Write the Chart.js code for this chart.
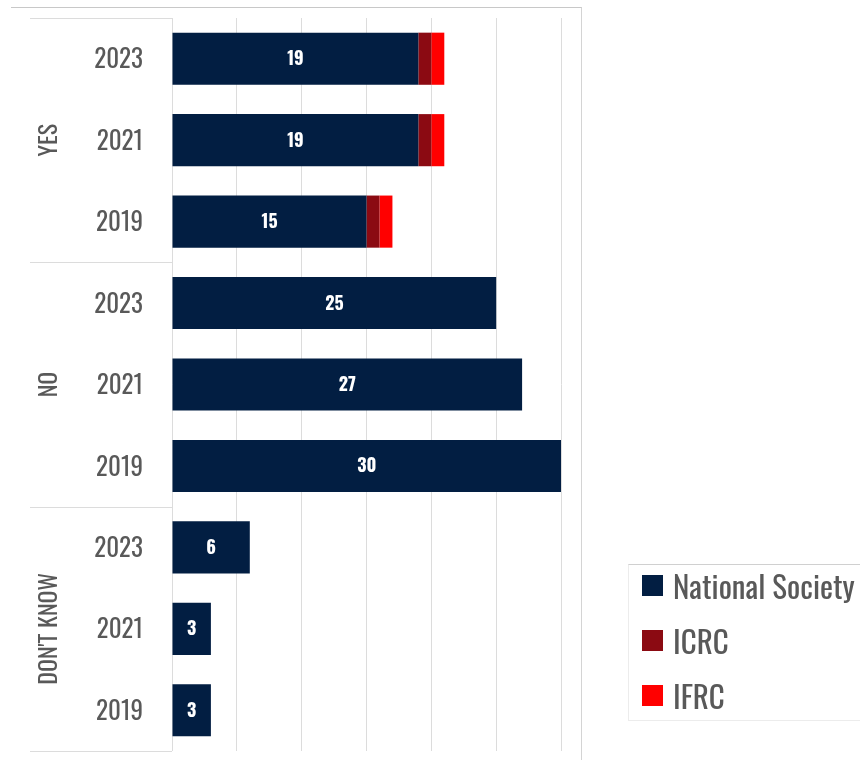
<!DOCTYPE html>
<html>
<head>
<meta charset="utf-8">
<script src="https://cdn.jsdelivr.net/npm/chart.js@4.4.1/dist/chart.umd.min.js"></script>
<style>
  body { margin: 0; background: #fff; }
  #wrap { position: relative; width: 860px; height: 760px; overflow: hidden; }
  #frame {
    position: absolute; left: 11px; top: 7px; width: 570px; height: 760px;
    border-top: 1px solid #c8c8c8; border-right: 1px solid #d4d4d4;
  }
  #legend {
    position: absolute; left: 628px; top: 564px; width: 240px; height: 155px;
    border-top: 1px solid #d0d0d0; border-left: 1px solid #ececec; border-bottom: 1px solid #ececec;
    font-family: Oswald, "Roboto Condensed", sans-serif;
    font-size: 31px; color: #595959;
  }
  .item { position: absolute; left: 13px; height: 30px; line-height: 30px; }
  .item span.box { position: absolute; left: 0; top: 0; width: 21px; height: 21px; }
  .item span.txt { position: absolute; left: 31px; top: -5px; white-space: nowrap; }
  canvas { position: absolute; left: 0; top: 0; }
</style>
</head>
<body>
<div id="wrap">
  <div id="frame"></div>
  <canvas id="chart" width="860" height="760"></canvas>
  <div id="legend"></div>
</div>
<script>
const groups = ["YES", "NO", "DON'T KNOW"];
const years = ["2023", "2021", "2019"];
const seriesNames = ["National Society", "ICRC", "IFRC"];
const seriesColors = ["#021e42", "#8b0a12", "#ff0000"];
const nationalSociety = [19, 19, 15, 25, 27, 30, 6, 3, 3];
const icrc = [1, 1, 1, 0, 0, 0, 0, 0, 0];
const ifrc = [1, 1, 1, 0, 0, 0, 0, 0, 0];

const labels = groups.flatMap(() => years);
const font = "Oswald, 'Roboto Condensed', sans-serif";

// group captions on the left plus the thin separator lines between them
const groupPlugin = {
  id: "groups",
  afterDraw(chart) {
    const { ctx, chartArea, scales } = chart;
    const y = scales.y;
    const per = years.length;
    ctx.save();
    ctx.strokeStyle = "#dcdcdc";
    ctx.lineWidth = 1;
    for (let g = 0; g <= groups.length; g++) {
      let py;
      if (g === 0) py = chartArea.top;
      else if (g === groups.length) py = chartArea.bottom;
      else py = (y.getPixelForValue(g * per - 1) + y.getPixelForValue(g * per)) / 2;
      py = Math.round(py) + 0.5;
      ctx.beginPath();
      ctx.moveTo(30, py);
      ctx.lineTo(chartArea.left, py);
      ctx.stroke();
    }
    ctx.fillStyle = "#595959";
    ctx.font = "24px " + font;
    ctx.textAlign = "center";
    ctx.textBaseline = "middle";
    groups.forEach((name, g) => {
      const cy = y.getPixelForValue(g * per + (per - 1) / 2);
      ctx.save();
      ctx.translate(50, cy);
      ctx.rotate(-Math.PI / 2);
      ctx.fillText(name, 0, 0);
      ctx.restore();
    });
    ctx.restore();
  }
};

// white value labels inside the National Society bars
const valuePlugin = {
  id: "values",
  afterDatasetsDraw(chart) {
    const { ctx } = chart;
    const meta = chart.getDatasetMeta(0);
    ctx.save();
    ctx.fillStyle = "#ffffff";
    ctx.font = "bold 18px " + font;
    ctx.textAlign = "center";
    ctx.textBaseline = "middle";
    meta.data.forEach((bar, i) => {
      const { x, base, y } = bar.getProps(["x", "base", "y"], true);
      ctx.fillText(String(nationalSociety[i]), (x + base) / 2, y + 1);
    });
    ctx.restore();
  }
};

new Chart(document.getElementById("chart"), {
  type: "bar",
  data: {
    labels,
    datasets: [
      { label: seriesNames[0], data: nationalSociety, backgroundColor: seriesColors[0] },
      { label: seriesNames[1], data: icrc, backgroundColor: seriesColors[1] },
      { label: seriesNames[2], data: ifrc, backgroundColor: seriesColors[2] },
    ],
  },
  options: {
    indexAxis: "y",
    responsive: false,
    animation: false,
    layout: { padding: { left: 0, right: 299, top: 18, bottom: 9 } },
    datasets: { bar: { categoryPercentage: 1, barPercentage: 0.64 } },
    plugins: { legend: { display: false }, tooltip: { enabled: false } },
    scales: {
      x: {
        stacked: true,
        min: 0,
        max: 30,
        ticks: { display: false, stepSize: 5 },
        grid: { color: "#dcdcdc", drawTicks: false },
        border: { display: false },
      },
      y: {
        stacked: true,
        afterFit(scale) {
          scale.width = 172;
          scale.paddingTop = 0;
          scale.paddingBottom = 0;
        },
        ticks: { color: "#595959", padding: 29, labelOffset: 2, font: { family: font, size: 25 } },
        grid: { display: false, drawTicks: false },
        border: { display: false },
      },
    },
  },
  plugins: [groupPlugin, valuePlugin],
});

// legend box in the lower right
const legend = document.getElementById("legend");
seriesNames.forEach((name, i) => {
  const item = document.createElement("div");
  item.className = "item";
  item.style.top = (10 + i * 55) + "px";
  item.innerHTML = `<span class="box" style="background:${seriesColors[i]}"></span><span class="txt">${name}</span>`;
  legend.appendChild(item);
});
</script>
</body>
</html>
